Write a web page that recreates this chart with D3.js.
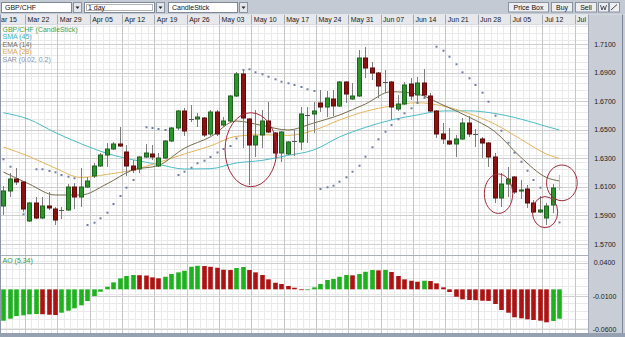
<!DOCTYPE html>
<html>
<head>
<meta charset="utf-8">
<script src="https://cdn.jsdelivr.net/npm/d3@7"></script>
<style>
  body { margin: 0; background: #fff; overflow: hidden; }
  svg { display: block; font-family: "Liberation Sans", Arial, sans-serif; }
</style>
</head>
<body>
<div id="chart"></div>
<script>
// --- Data ---
const weekLabels = ["Mar 15", "Mar 22", "Mar 29", "Apr 05", "Apr 12", "Apr 19", "Apr 26", "May 03",
  "May 10", "May 17", "May 24", "May 31", "Jun 07", "Jun 14", "Jun 21", "Jun 28", "Jul 05", "Jul 12", "Jul 19"];

// one candle per trading day, Mar 16 .. Jul 14
const opens = [1.5966, 1.6071, 1.6155, 1.6134, 1.5861, 1.5987, 1.5882, 1.5966, 1.5945, 1.5938,
  1.5938, 1.6099, 1.6029, 1.6099, 1.6176, 1.6246, 1.6323, 1.6365, 1.6400, 1.6344,
  1.6246, 1.6225, 1.6309, 1.6330, 1.6246, 1.6302, 1.6421, 1.6512, 1.6631, 1.6575,
  1.6575, 1.6582, 1.6470, 1.6624, 1.6533, 1.6561, 1.6736, 1.6890, 1.6575, 1.6393,
  1.6463, 1.6561, 1.6477, 1.6337, 1.6330, 1.6421, 1.6414, 1.6603, 1.6610, 1.6687,
  1.6659, 1.6715, 1.6666, 1.6834, 1.6715, 1.6736, 1.7002, 1.6932, 1.6897, 1.6834,
  1.6834, 1.6645, 1.6680, 1.6820, 1.6743, 1.6827, 1.6736, 1.6631, 1.6470, 1.6421,
  1.6400, 1.6435, 1.6547, 1.6470, 1.6435, 1.6407, 1.6309, 1.6022, 1.6120, 1.6169,
  1.6071, 1.6085, 1.5987, 1.5924, 1.5882, 1.5973, 1.6099];
const highs = [1.6106, 1.6197, 1.6232, 1.6141, 1.5994, 1.6029, 1.6029, 1.6064, 1.5959, 1.5959,
  1.6120, 1.6127, 1.6232, 1.6169, 1.6267, 1.6337, 1.6407, 1.6414, 1.6519, 1.6393,
  1.6288, 1.6316, 1.6400, 1.6393, 1.6337, 1.6428, 1.6519, 1.6638, 1.6652, 1.6673,
  1.6617, 1.6589, 1.6638, 1.6638, 1.6589, 1.6743, 1.6904, 1.6918, 1.6582, 1.6638,
  1.6638, 1.6694, 1.6484, 1.6491, 1.6421, 1.6498, 1.6659, 1.6659, 1.6694, 1.6778,
  1.6771, 1.6778, 1.6841, 1.6841, 1.6827, 1.7058, 1.7079, 1.6974, 1.6904, 1.6918,
  1.6841, 1.6743, 1.6834, 1.6862, 1.6869, 1.6925, 1.6757, 1.6638, 1.6547, 1.6512,
  1.6463, 1.6582, 1.6596, 1.6505, 1.6449, 1.6414, 1.6337, 1.6197, 1.6239, 1.6176,
  1.6148, 1.6113, 1.6008, 1.6036, 1.5987, 1.6120, 1.6183];
const lows = [1.5903, 1.6029, 1.6113, 1.5924, 1.5854, 1.5875, 1.5875, 1.5938, 1.5833, 1.5875,
  1.5931, 1.5945, 1.5959, 1.6092, 1.6162, 1.6239, 1.6239, 1.6358, 1.6379, 1.6176,
  1.6197, 1.6197, 1.6302, 1.6288, 1.6239, 1.6295, 1.6414, 1.6498, 1.6456, 1.6554,
  1.6519, 1.6449, 1.6456, 1.6456, 1.6519, 1.6554, 1.6729, 1.6372, 1.6113, 1.6309,
  1.6372, 1.6477, 1.6302, 1.6274, 1.6323, 1.6316, 1.6358, 1.6407, 1.6477, 1.6624,
  1.6589, 1.6596, 1.6659, 1.6687, 1.6708, 1.6729, 1.6862, 1.6848, 1.6722, 1.6757,
  1.6568, 1.6631, 1.6673, 1.6708, 1.6687, 1.6715, 1.6624, 1.6442, 1.6400, 1.6393,
  1.6309, 1.6428, 1.6449, 1.6379, 1.6302, 1.6239, 1.5987, 1.5959, 1.6029, 1.6050,
  1.6015, 1.5952, 1.5917, 1.5917, 1.5833, 1.5917, 1.6078];
const closes = [1.6071, 1.6155, 1.6134, 1.5945, 1.5987, 1.5882, 1.5966, 1.5952, 1.5868, 1.5938,
  1.6099, 1.6029, 1.6099, 1.6141, 1.6246, 1.6323, 1.6365, 1.6400, 1.6386, 1.6246,
  1.6218, 1.6309, 1.6337, 1.6309, 1.6302, 1.6421, 1.6512, 1.6631, 1.6491, 1.6575,
  1.6589, 1.6463, 1.6624, 1.6470, 1.6561, 1.6736, 1.6890, 1.6582, 1.6393, 1.6456,
  1.6561, 1.6484, 1.6337, 1.6484, 1.6414, 1.6421, 1.6610, 1.6603, 1.6631, 1.6659,
  1.6722, 1.6666, 1.6834, 1.6750, 1.6736, 1.7002, 1.6932, 1.6897, 1.6806, 1.6834,
  1.6659, 1.6680, 1.6813, 1.6736, 1.6827, 1.6743, 1.6631, 1.6470, 1.6435, 1.6400,
  1.6435, 1.6547, 1.6470, 1.6470, 1.6407, 1.6309, 1.6022, 1.6120, 1.6155, 1.6064,
  1.6078, 1.5987, 1.5924, 1.5938, 1.5966, 1.6092, 1.6099];

// Parabolic SAR, one per candle (null = not visible)
const sarValues = [1.6293, 1.6241, null, 1.5908, null, 1.6223, 1.6223, 1.6211, 1.6202, 1.6183,
  1.6171, 1.6160, null, 1.5833, 1.5849, 1.5880, 1.5919, 1.5980, 1.6036, 1.6094,
  1.6148, null, 1.6517, 1.6512, 1.6505, 1.6498, null, 1.6183, 1.6206, 1.6234,
  1.6265, 1.6283, 1.6309, 1.6341, 1.6365, 1.6386, 1.6439, 1.6918, 1.6923, 1.6902,
  1.6888, 1.6871, 1.6853, 1.6836, 1.6825, 1.6813, 1.6799, 1.6783, 1.6771, 1.6085,
  1.6097, 1.6108, 1.6136, 1.6167, 1.6206, 1.6248, 1.6311, 1.6377, 1.6433, 1.6486,
  1.6533, 1.6573, 1.6615, 1.6650, 1.6687, 1.6722, null, 1.7081, 1.7053, 1.7011,
  1.6958, 1.6902, 1.6860, 1.6813, 1.6759, 1.6696, 1.6598, 1.6493, 1.6409, 1.6339,
  1.6276, 1.6213, 1.6148, 1.6094, null, null, 1.5851];

// moving averages, read every fourth candle
const lineIdx = [1, 5, 9, 13, 17, 21, 25, 29, 33, 37, 41, 45, 49, 53, 57, 61, 65, 69, 73, 77, 81, 85, 87];
const sma45 = [1.6619, 1.6572, 1.6481, 1.6402, 1.6335, 1.6290, 1.6257, 1.6225, 1.6227, 1.6267, 1.6285, 1.6320,
  1.6358, 1.6449, 1.6516, 1.6568, 1.6603, 1.6631, 1.6632, 1.6614, 1.6575, 1.6523, 1.6498];
const ema14 = [1.6204, 1.6120, 1.6043, 1.6043, 1.6120, 1.6218, 1.6250, 1.6370, 1.6449, 1.6561, 1.6530, 1.6498,
  1.6547, 1.6603, 1.6680, 1.6766, 1.6750, 1.6673, 1.6589, 1.6488, 1.6309, 1.6166, 1.6141];
const ema28 = [1.6379, 1.6313, 1.6232, 1.6166, 1.6187, 1.6218, 1.6271, 1.6330, 1.6386, 1.6453, 1.6465, 1.6460,
  1.6495, 1.6568, 1.6628, 1.6666, 1.6689, 1.6666, 1.6614, 1.6540, 1.6435, 1.6330, 1.6299];

// Awesome Oscillator (5,34)
const aoValues = [-0.0471, -0.0441, -0.0401, -0.0390, -0.0375, -0.0371, -0.0374, -0.0381, -0.0386, -0.0351,
  -0.0321, -0.0285, -0.0240, -0.0176, -0.0101, -0.0036, 0.0039, 0.0105, 0.0165, 0.0200,
  0.0215, 0.0212, 0.0207, 0.0180, 0.0165, 0.0189, 0.0230, 0.0255, 0.0279, 0.0339,
  0.0354, 0.0350, 0.0339, 0.0324, 0.0294, 0.0290, 0.0320, 0.0335, 0.0290, 0.0255,
  0.0215, 0.0150, 0.0099, 0.0080, 0.0050, 0.0024, -0.0005, -0.0003, 0.0030, 0.0080,
  0.0140, 0.0155, 0.0189, 0.0215, 0.0210, 0.0230, 0.0264, 0.0290, 0.0285, 0.0292,
  0.0260, 0.0200, 0.0150, 0.0129, 0.0114, 0.0129, 0.0125, 0.0090, 0.0030, -0.0040,
  -0.0111, -0.0150, -0.0160, -0.0163, -0.0171, -0.0174, -0.0220, -0.0310, -0.0351, -0.0420,
  -0.0435, -0.0450, -0.0460, -0.0471, -0.0495, -0.0475, -0.0441];

const priceTicks = [1.71, 1.69, 1.67, 1.65, 1.63, 1.61, 1.59, 1.57];
const aoTicks = [0.04, -0.01, -0.06];

// hand drawn rings: centre (candle, price) and radii (candles, price)
const ringIdx = [39.3, 77.6, 84.8, 87.4];
const ringPrice = [1.6360, 1.6052, 1.5923, 1.6128];
const ringRi = [4.0, 2.2, 1.96, 2.37];
const ringRp = [0.0259, 0.0138, 0.0109, 0.0125];

const legend = [
  ["GBP/CHF (CandleStick)", "#45a045"],
  ["SMA (45)", "#3fb3bb"],
  ["EMA (14)", "#7c6f4c"],
  ["EMA (28)", "#d9a84a"],
  ["SAR (0.02, 0.2)", "#8793a6"]
];

// --- Layout ---
const W = 625, H = 337;
const plotRight = 588;
const headTop = 14.5, headBottom = 24.5;
const priceBottom = 255;
const aoTop = 255.5, aoBottom = 333;

const svg = d3.select("#chart").append("svg")
  .attr("width", W)
  .attr("height", H);

const x = d3.scaleLinear().domain([1, 87]).range([3.3, 559.3]);
const yP = d3.scaleLinear().domain([1.57, 1.71]).range([244, 44]);
const yA = d3.scaleLinear().domain([-0.06, 0.04]).range([329.3, 262.7]);
const px = v => Math.round(v) + 0.5;

const defs = svg.append("defs");
defs.append("clipPath").attr("id", "clipP").append("rect")
  .attr("x", 1).attr("y", headBottom).attr("width", plotRight - 1).attr("height", priceBottom - headBottom);
defs.append("clipPath").attr("id", "clipA").append("rect")
  .attr("x", 1).attr("y", aoTop).attr("width", plotRight - 1).attr("height", aoBottom - aoTop);
defs.append("clipPath").attr("id", "clipH").append("rect")
  .attr("x", 1).attr("y", headTop).attr("width", plotRight - 1).attr("height", headBottom - headTop);

// --- Toolbar ---
svg.append("rect").attr("width", W).attr("height", headTop).attr("fill", "#c4cad4");

function dropdown(x0, w, label, focused) {
  const g = svg.append("g");
  g.append("rect").attr("x", x0 + 0.5).attr("y", 2.5).attr("width", w).attr("height", 10)
    .attr("fill", "#fff").attr("stroke", "#7d8796");
  if (focused) {
    g.append("rect").attr("x", x0 + 2.5).attr("y", 4.5).attr("width", w - 4).attr("height", 6)
      .attr("fill", "none").attr("stroke", "#666").attr("stroke-dasharray", "1,1");
  }
  g.append("text").attr("x", x0 + 4).attr("y", 10.3).attr("font-size", 7).attr("fill", "#111").text(label);
  const bx = x0 + w + 2;
  g.append("rect").attr("x", bx + 0.5).attr("y", 2.5).attr("width", 8).attr("height", 10)
    .attr("fill", "#e3e6ea").attr("stroke", "#8a93a1");
  g.append("path").attr("d", `M${bx + 2.5},6.5 L${bx + 6.5},6.5 L${bx + 4.5},9 Z`).attr("fill", "#222");
}
dropdown(1, 70, "GBP/CHF", false);
dropdown(84, 70, "1 day", true);
dropdown(168, 69, "CandleStick", false);

function button(x0, w, label) {
  svg.append("rect").attr("x", x0 + 0.5).attr("y", 2.5).attr("width", w).attr("height", 9.5)
    .attr("fill", "#eceef1").attr("stroke", "#8a92a0");
  if (label) {
    svg.append("text").attr("x", x0 + w / 2 + 0.5).attr("y", 9.8).attr("text-anchor", "middle")
      .attr("font-size", 7).attr("fill", "#111").text(label);
  }
}
button(508, 40, "Price Box");
button(551, 21, "Buy");
button(575, 21, "Sell");
button(598, 10, "");
button(609, 10, "");
svg.append("path").attr("d", "M600.5,5 L602,10 L603.5,6 L605,10 L606.5,5").attr("fill", "none").attr("stroke", "#333").attr("stroke-width", 0.8);
svg.append("path").attr("d", "M611,10 L617,4.5").attr("stroke", "#333").attr("stroke-width", 0.9);

// --- Right axis panel and frame ---
svg.append("rect").attr("x", plotRight).attr("y", headTop).attr("width", W - plotRight).attr("height", aoBottom - headTop)
  .attr("fill", "#c8cdd6");
svg.append("line").attr("x1", plotRight + 0.5).attr("x2", plotRight + 0.5).attr("y1", headTop).attr("y2", aoBottom)
  .attr("stroke", "#a3aab6");
svg.append("line").attr("x1", 622.5).attr("x2", 622.5).attr("y1", headTop).attr("y2", aoBottom)
  .attr("stroke", "#7e8898");
svg.append("rect").attr("x", 0).attr("y", aoBottom).attr("width", W).attr("height", H - aoBottom).attr("fill", "#95a0b1");

// --- Date header ---
const weekIdx = weekLabels.map((d, w) => 5 * w - 0.64);
svg.append("rect").attr("x", 0).attr("y", headTop).attr("width", plotRight).attr("height", headBottom - headTop)
  .attr("fill", "#e6e8ec");
const head = svg.append("g").attr("clip-path", "url(#clipH)");
head.selectAll("line").data(weekIdx).join("line")
  .attr("x1", d => px(x(d))).attr("x2", d => px(x(d)))
  .attr("y1", headTop).attr("y2", headBottom)
  .attr("stroke", "#a5abb5");
head.selectAll("text").data(weekLabels).join("text")
  .attr("x", (d, w) => x(weekIdx[w]) + 2.5)
  .attr("y", 22)
  .attr("font-size", 7)
  .attr("fill", "#1a1a1a")
  .text(d => d);
svg.append("line").attr("x1", 0).attr("x2", plotRight).attr("y1", headBottom + 0.5).attr("y2", headBottom + 0.5)
  .attr("stroke", "#9ea5b0");

// --- Grids ---
function grid(g, top, bottom, minorH, majorH, yScale) {
  const minorV = d3.range(-1, 91).filter(j => j % 5 !== 0).map(j => j - 0.64);
  g.append("g").selectAll("line").data(minorV).join("line")
    .attr("x1", d => px(x(d))).attr("x2", d => px(x(d))).attr("y1", top).attr("y2", bottom)
    .attr("stroke", "#eaeaea");
  g.append("g").selectAll("line").data(minorH).join("line")
    .attr("x1", 0).attr("x2", plotRight).attr("y1", d => px(yScale(d))).attr("y2", d => px(yScale(d)))
    .attr("stroke", "#eaeaea");
  g.append("g").selectAll("line").data(weekIdx).join("line")
    .attr("x1", d => px(x(d))).attr("x2", d => px(x(d))).attr("y1", top).attr("y2", bottom)
    .attr("stroke", "#c6c6c6");
  g.append("g").selectAll("line").data(majorH).join("line")
    .attr("x1", 0).attr("x2", plotRight).attr("y1", d => px(yScale(d))).attr("y2", d => px(yScale(d)))
    .attr("stroke", "#cfcfcf");
}

const priceG = svg.append("g").attr("clip-path", "url(#clipP)");
priceG.append("rect").attr("x", 0).attr("y", headBottom).attr("width", plotRight).attr("height", priceBottom - headBottom)
  .attr("fill", "#fff");
grid(priceG, headBottom, priceBottom, d3.range(0, 33).map(k => 1.5625 + k * 0.005), priceTicks, yP);

const aoG = svg.append("g").attr("clip-path", "url(#clipA)");
aoG.append("rect").attr("x", 0).attr("y", aoTop).attr("width", plotRight).attr("height", aoBottom - aoTop)
  .attr("fill", "#fff");
grid(aoG, aoTop, aoBottom, d3.range(0, 12).map(k => -0.07 + k * 0.0125), aoTicks, yA);

// panel separator
svg.append("line").attr("x1", 0).attr("x2", plotRight).attr("y1", priceBottom + 0.5).attr("y2", priceBottom + 0.5)
  .attr("stroke", "#aab0ba");
// left frame
svg.append("line").attr("x1", 0.5).attr("x2", 0.5).attr("y1", headTop).attr("y2", aoBottom).attr("stroke", "#8d97a7");

// --- Moving averages ---
const line = d3.line().x(d => x(d.i)).y(d => yP(d.v)).curve(d3.curveMonotoneX);
[[sma45, "#4bbcc4"], [ema28, "#e0b55c"], [ema14, "#756a4a"]].forEach(([vals, color]) => {
  priceG.append("path")
    .datum(lineIdx.map((i, k) => ({ i, v: vals[k] })))
    .attr("fill", "none")
    .attr("stroke", color)
    .attr("stroke-width", 1)
    .attr("d", line);
});

// --- SAR dots ---
priceG.append("g").selectAll("rect")
  .data(sarValues.map((v, k) => ({ i: k + 1, v })).filter(d => d.v !== null))
  .join("rect")
  .attr("x", d => Math.round(x(d.i)) - 0.5)
  .attr("y", d => yP(d.v) - 1)
  .attr("width", 2).attr("height", 2)
  .attr("fill", "#6f7f9f");

// --- Candles ---
const candles = opens.map((o, k) => ({ i: k + 1, o, h: highs[k], l: lows[k], c: closes[k] }));
const last = candles.length;
const cg = priceG.append("g").selectAll("g").data(candles).join("g");
cg.append("line")
  .attr("x1", d => px(x(d.i))).attr("x2", d => px(x(d.i)))
  .attr("y1", d => yP(d.h)).attr("y2", d => yP(d.l))
  .attr("stroke", d => d.i === last ? "#bbbbbb" : "#7d7d7d");
cg.filter(d => d.o !== d.c).append("rect")
  .attr("x", d => Math.round(x(d.i)) - 1.5)
  .attr("y", d => yP(Math.max(d.o, d.c)))
  .attr("width", 4)
  .attr("height", d => Math.max(1, Math.abs(yP(d.o) - yP(d.c))))
  .attr("fill", d => d.c > d.o ? "#2c962c" : "#8c1111")
  .attr("stroke", d => d.c > d.o ? "#1f621f" : "#5c0a0a")
  .attr("stroke-width", 1);
cg.filter(d => d.o === d.c).append("line")
  .attr("x1", d => Math.round(x(d.i)) - 2).attr("x2", d => Math.round(x(d.i)) + 3)
  .attr("y1", d => px(yP(d.o))).attr("y2", d => px(yP(d.o)))
  .attr("stroke", d => d.i === last ? "#bbbbbb" : "#555");

// --- Rings ---
priceG.append("g").selectAll("ellipse").data(ringIdx).join("ellipse")
  .attr("cx", d => x(d))
  .attr("cy", (d, k) => yP(ringPrice[k]))
  .attr("rx", (d, k) => x(d + ringRi[k]) - x(d))
  .attr("ry", (d, k) => yP(ringPrice[k]) - yP(ringPrice[k] + ringRp[k]))
  .attr("fill", "none")
  .attr("stroke", "#a02a3c")
  .attr("stroke-width", 1);

// --- Legend ---
svg.append("g").selectAll("text").data(legend).join("text")
  .attr("x", 2.5)
  .attr("y", (d, k) => 31.6 + k * 7.5)
  .attr("font-size", 7)
  .attr("fill", d => d[1])
  .text(d => d[0]);

// --- AO histogram ---
aoG.append("g").selectAll("rect")
  .data(aoValues.map((v, k) => ({ i: k + 1, v, up: k === 0 || v > aoValues[k - 1] })))
  .join("rect")
  .attr("x", d => Math.round(x(d.i)) - 1.8)
  .attr("y", d => Math.min(yA(0), yA(d.v)))
  .attr("width", 4.6)
  .attr("height", d => Math.max(0.8, Math.abs(yA(d.v) - yA(0))))
  .attr("fill", d => d.up ? "#1fb21f" : "#ad1313");

svg.append("text").attr("x", 2.5).attr("y", 262.5).attr("font-size", 7).attr("fill", "#3d9a3d").text("AO (5,34)");

// --- Axis labels ---
svg.append("g").selectAll("text").data(priceTicks).join("text")
  .attr("x", 605).attr("y", d => yP(d) + 2.5)
  .attr("text-anchor", "middle").attr("font-size", 7).attr("fill", "#1a1a1a")
  .text(d => d.toFixed(4));
svg.append("g").selectAll("text").data(aoTicks).join("text")
  .attr("x", 604.5).attr("y", d => yA(d) + 2.5)
  .attr("text-anchor", "middle").attr("font-size", 7).attr("fill", "#1a1a1a")
  .text(d => d.toFixed(4));
</script>
</body>
</html>
